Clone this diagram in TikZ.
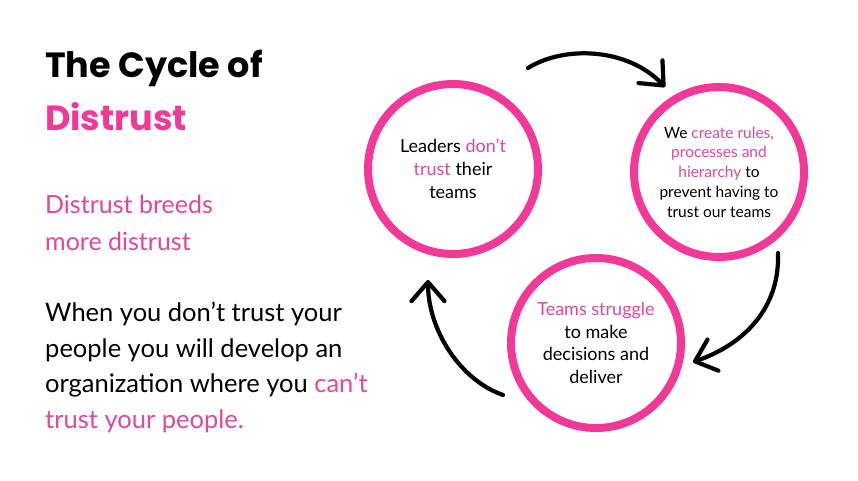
\documentclass[tikz,border=0pt]{standalone}
\usepackage{fontspec}
\setmainfont{Lato}
\newfontfamily\headfont{Poppins}
\usetikzlibrary{arrows.meta,positioning,calc}
\definecolor{HotPink}{RGB}{243,56,152}
\definecolor{SoftPink}{RGB}{222,72,158}
\newcommand{\pk}[1]{\textcolor{SoftPink}{#1}}

\begin{document}
\begin{tikzpicture}[x=1pt,y=-1pt,
  ring/.style={circle,draw=HotPink,line width=8pt,minimum size=170pt,
    inner sep=0pt,align=center},
  cycarrow/.style={line width=4.2pt,line cap=round,
    -{Straight Barb[length=19pt,width=33pt,line width=4.2pt,round]}},
  bodytext/.style={anchor=north west,inner sep=0pt,align=left}]
  \useasboundingbox (0,0) rectangle (858,480);
  % Left column
  \node[bodytext,font=\headfont\bfseries\fontsize{35}{53}\selectfont]
    (title) at (45,50) {The Cycle of\\\textcolor{HotPink}{Distrust}};
  \node[bodytext,font=\fontsize{25}{37}\selectfont,text=SoftPink]
    (sub) at (45,195) {Distrust breeds\\more distrust};
  \node[bodytext,font=\fontsize{25.5}{35.5}\selectfont]
    (body) at (45,302) {When you don’t trust your\\people you will develop an\\
      organization where you \pk{can’t}\\\pk{trust your people.}};
  % Circles
  \node[ring,font=\fontsize{18}{23}\selectfont] (lead) at (453,169)
    {Leaders \pk{don’t}\\\pk{trust} their\\teams};
  \node[ring,font=\fontsize{15.5}{19.8}\selectfont] (rules) at (719,172)
    {We \pk{create rules,}\\\pk{processes and}\\\pk{hierarchy} to\\
      prevent having to\\trust our teams};
  \node[ring,font=\fontsize{18}{22.5}\selectfont] (teams) at (596,343)
    {\pk{Teams struggle}\\to make\\decisions and\\deliver};
  % Arrows
  \coordinate (a1) at (528,68);
  \coordinate (b1) at (665,87);
  \coordinate (a2) at (778,253);
  \coordinate (b2) at (693,362);
  \coordinate (a3) at (503,395);
  \coordinate (b3) at (428,280);
  \draw[cycarrow] (a1) .. controls (565,45) and (628,48) .. (b1);
  \draw[cycarrow] (a2) .. controls (780,310) and (742,345) .. (b2);
  \draw[cycarrow] (a3) .. controls (460,380) and (428,330) .. (b3);
\end{tikzpicture}
\end{document}
